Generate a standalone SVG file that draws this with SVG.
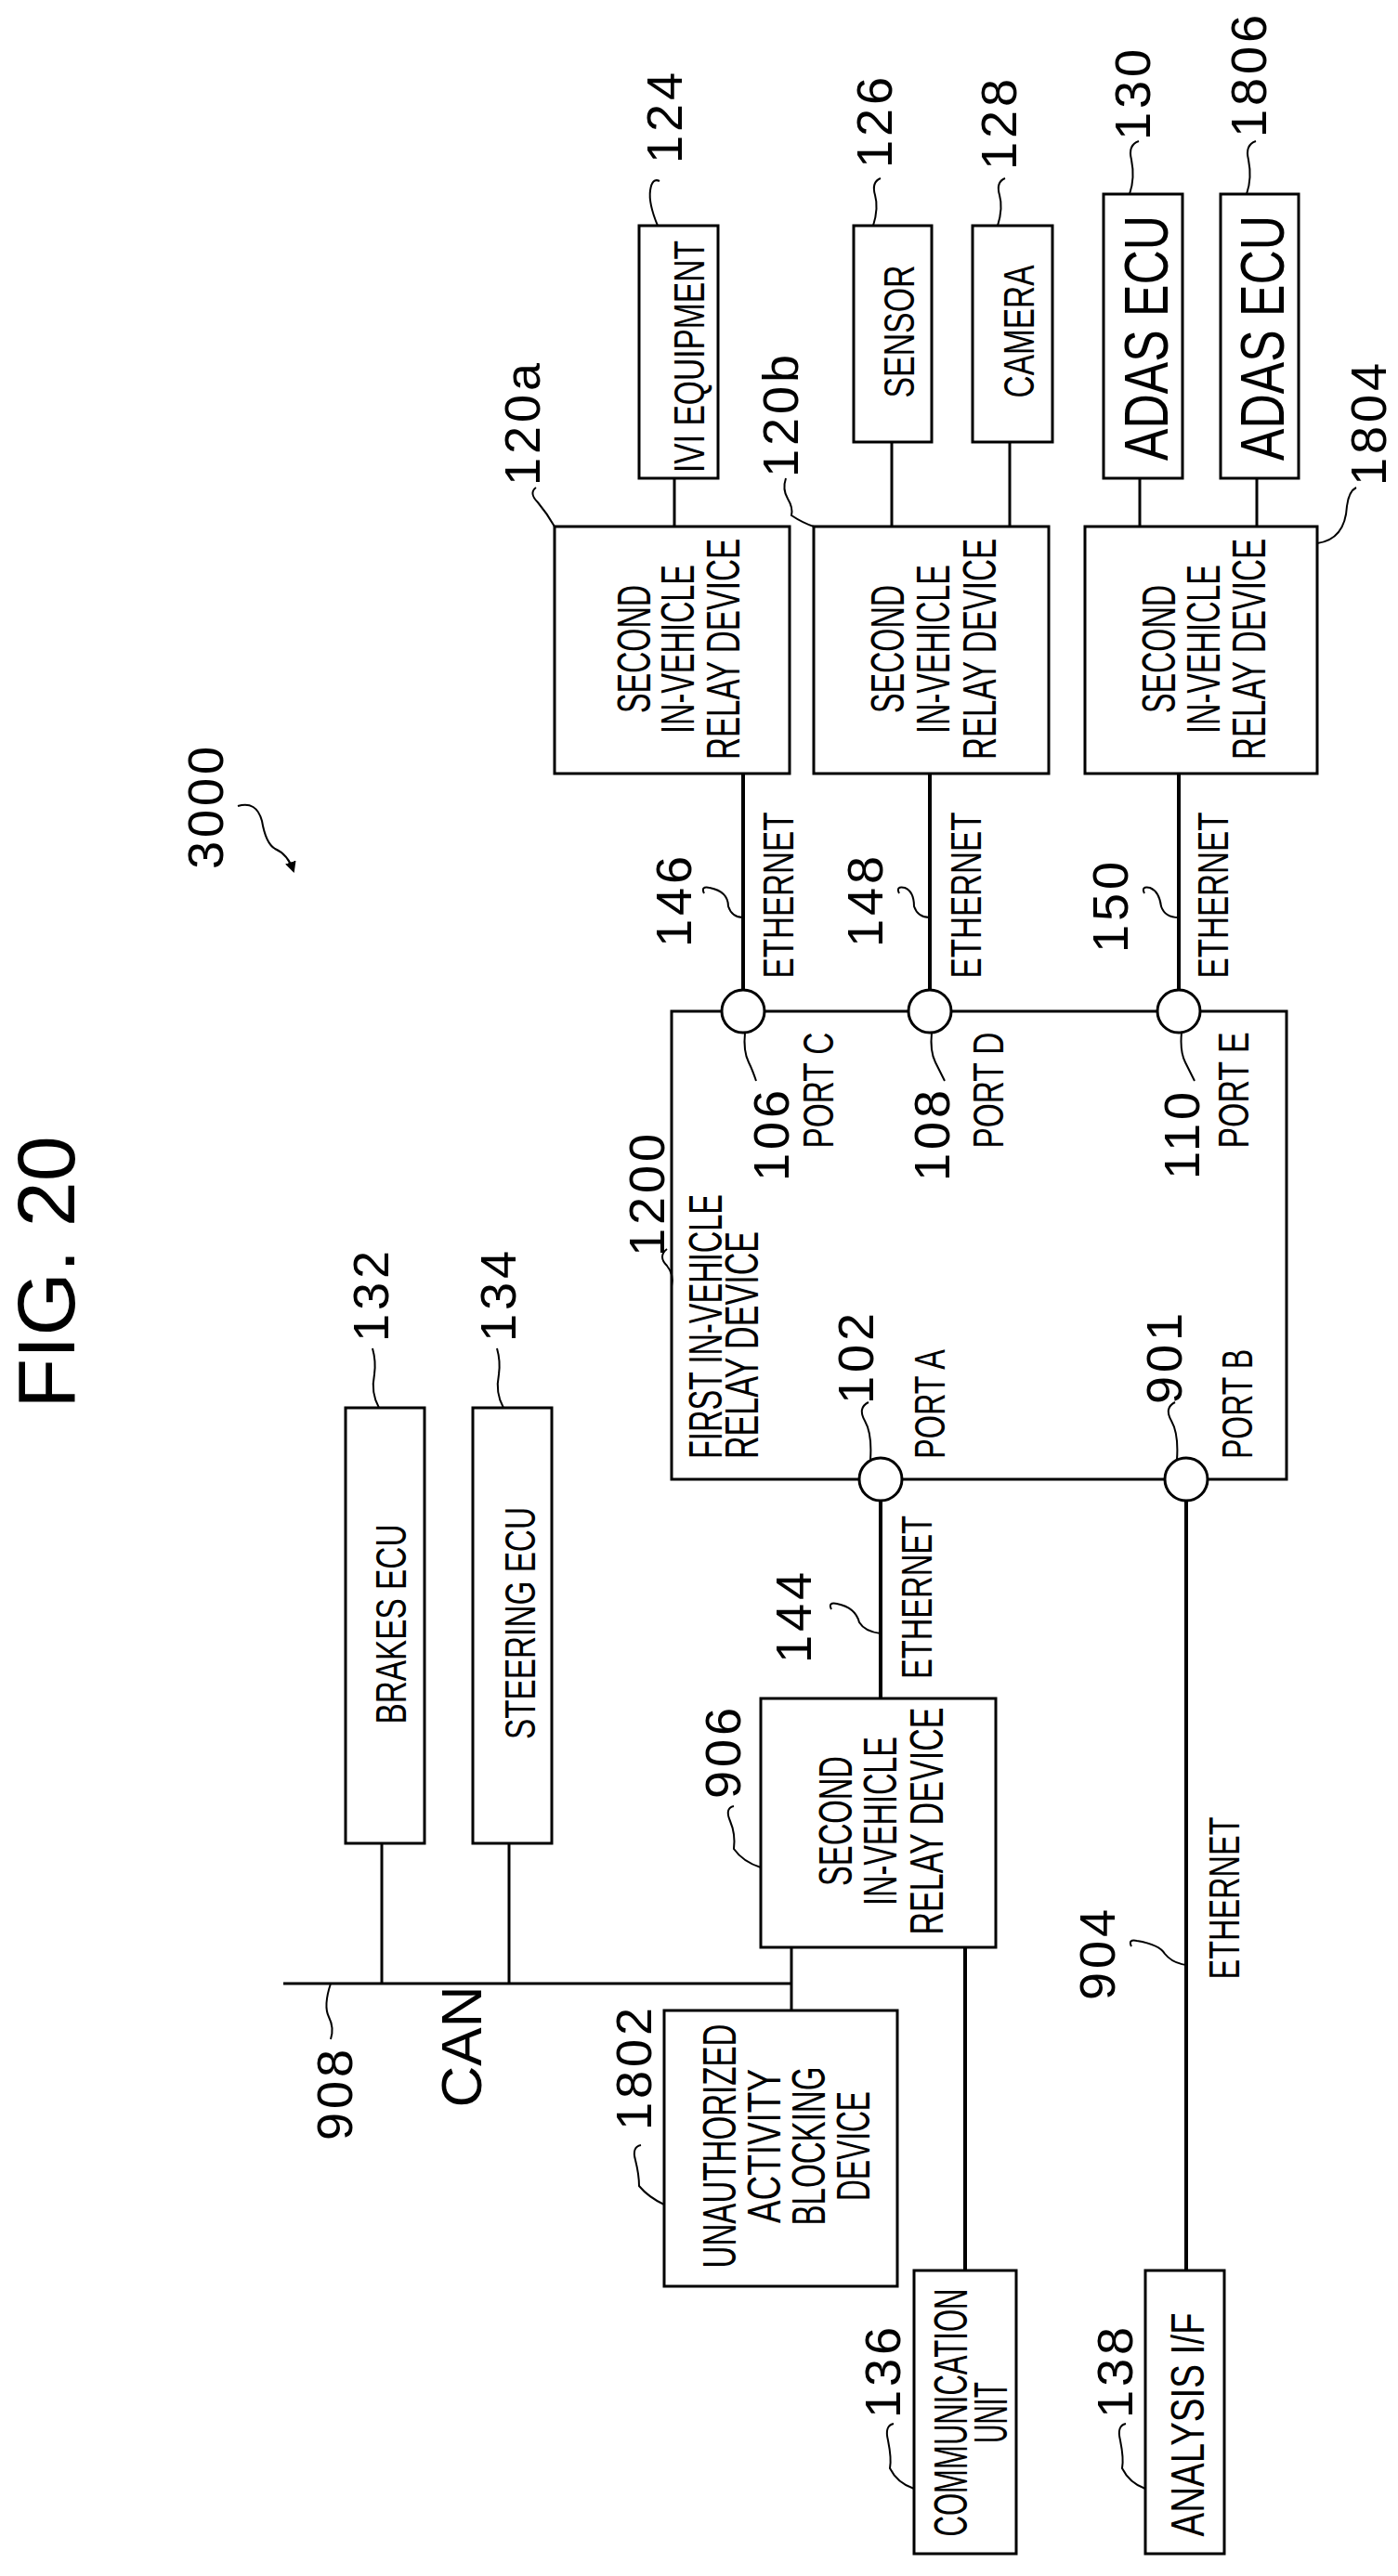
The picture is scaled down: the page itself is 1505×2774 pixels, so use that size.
<svg xmlns="http://www.w3.org/2000/svg" width="1505" height="2774" viewBox="0 0 1505 2774">
<style>
.b{fill:#fff;stroke:#000;stroke-width:3}
.l{fill:none;stroke:#000;stroke-width:3}
.e{fill:none;stroke:#000;stroke-width:4}
.ld{fill:none;stroke:#000;stroke-width:2}
.c{fill:#fff;stroke:#000;stroke-width:3}
text{font-family:"Liberation Sans",Arial,sans-serif;fill:#000}
.t{font-size:50px;text-anchor:middle}
.n{font-size:54px;text-anchor:middle;letter-spacing:4px}
.s{font-size:46px;text-anchor:middle}
</style>
<defs><marker id="ah" markerWidth="12" markerHeight="12" refX="10" refY="6" orient="auto" markerUnits="userSpaceOnUse"><path d="M0,0 L12,6 L0,12 Z" fill="#000"/></marker></defs>
<text style="font-size:88px;text-anchor:middle" transform="translate(80,1370) rotate(-90)">FIG. 20</text>
<g id="connectors">
<line class="l" x1="726" y1="515" x2="726" y2="567"/>
<line class="l" x1="960" y1="476" x2="960" y2="567"/>
<line class="l" x1="1087" y1="476" x2="1087" y2="567"/>
<line class="l" x1="1227" y1="515" x2="1227" y2="567"/>
<line class="l" x1="1353" y1="515" x2="1353" y2="567"/>
<line class="e" x1="800" y1="833" x2="800" y2="1066"/>
<line class="e" x1="1001" y1="833" x2="1001" y2="1066"/>
<line class="e" x1="1269" y1="833" x2="1269" y2="1066"/>
<line class="e" x1="948" y1="1616" x2="948" y2="1829"/>
<line class="e" x1="1277" y1="1616" x2="1277" y2="2445"/>
<line class="l" x1="305" y1="2136" x2="852" y2="2136"/>
<line class="l" x1="411" y1="1985" x2="411" y2="2136"/>
<line class="l" x1="548" y1="1985" x2="548" y2="2136"/>
<line class="l" x1="852" y1="2097" x2="852" y2="2165"/>
<line class="e" x1="1039" y1="2097" x2="1039" y2="2445"/>
</g>
<g id="n1200"><rect class="b" x="723" y="1089" width="662" height="504"/>
<text class="t" style="text-anchor:start" transform="translate(777,1571) rotate(-90)" textLength="285" lengthAdjust="spacingAndGlyphs">FIRST IN-VEHICLE</text>
<text class="t" style="text-anchor:start" transform="translate(816,1571) rotate(-90)" textLength="245" lengthAdjust="spacingAndGlyphs">RELAY DEVICE</text>
<text class="n" transform="translate(715,1285) rotate(-90)">1200</text>
<path class="ld" d="M718,1345 q-10,8 0,18 q8,10 5,22"/>
</g>
<g id="ports">
<circle class="c" cx="800" cy="1089" r="23"/><circle class="c" cx="1001" cy="1089" r="23"/><circle class="c" cx="1269" cy="1089" r="23"/>
<circle class="c" cx="948" cy="1593" r="23"/><circle class="c" cx="1277" cy="1593" r="23"/>
<text class="n" transform="translate(849,1221) rotate(-90)">106</text>
<text class="s" transform="translate(897,1174) rotate(-90)" textLength="125" lengthAdjust="spacingAndGlyphs">PORT C</text>
<text class="n" transform="translate(1022,1221) rotate(-90)">108</text>
<text class="s" transform="translate(1080,1174) rotate(-90)" textLength="125" lengthAdjust="spacingAndGlyphs">PORT D</text>
<text class="n" transform="translate(1291,1221) rotate(-90)">110</text>
<text class="s" transform="translate(1344,1174) rotate(-90)" textLength="125" lengthAdjust="spacingAndGlyphs">PORT E</text>
<path class="ld" d="M814,1164 q-4,-12 -8,-20 q-6,-12 -4,-32"/>
<path class="ld" d="M1017,1164 q-6,-12 -10,-20 q-6,-12 -4,-32"/>
<path class="ld" d="M1286,1164 q-6,-12 -10,-20 q-6,-12 -4,-32"/>
<text class="n" transform="translate(940,1461) rotate(-90)">102</text>
<text class="s" style="text-anchor:start" transform="translate(1017,1571) rotate(-90)" textLength="118" lengthAdjust="spacingAndGlyphs">PORT A</text>
<text class="n" transform="translate(1272,1461) rotate(-90)">901</text>
<text class="s" style="text-anchor:start" transform="translate(1348,1571) rotate(-90)" textLength="118" lengthAdjust="spacingAndGlyphs">PORT B</text>
<path class="ld" d="M935,1510 q-12,6 -4,20 q8,14 6,42"/>
<path class="ld" d="M1265,1510 q-12,6 -4,20 q8,14 6,42"/>
</g>
<g id="n120a"><rect class="b" x="597" y="567" width="253" height="266"/>
<text class="t" transform="translate(700,699) rotate(-90)" textLength="138" lengthAdjust="spacingAndGlyphs">SECOND</text>
<text class="t" transform="translate(747,699) rotate(-90)" textLength="182" lengthAdjust="spacingAndGlyphs">IN-VEHICLE</text>
<text class="t" transform="translate(796,699) rotate(-90)" textLength="238" lengthAdjust="spacingAndGlyphs">RELAY DEVICE</text>
<text class="n" transform="translate(581,455) rotate(-90)">120a</text>
<path class="ld" d="M577,525 q-8,6 2,16 q10,12 18,26"/></g>
<g id="n120b"><rect class="b" x="876" y="567" width="253" height="266"/>
<text class="t" transform="translate(973,699) rotate(-90)" textLength="138" lengthAdjust="spacingAndGlyphs">SECOND</text>
<text class="t" transform="translate(1022,699) rotate(-90)" textLength="182" lengthAdjust="spacingAndGlyphs">IN-VEHICLE</text>
<text class="t" transform="translate(1072,699) rotate(-90)" textLength="238" lengthAdjust="spacingAndGlyphs">RELAY DEVICE</text>
<text class="n" transform="translate(859,446) rotate(-90)">120b</text>
<path class="ld" d="M846,515 q-4,12 2,22 q6,10 4,18 q12,8 24,12"/></g>
<g id="n1804"><rect class="b" x="1168" y="567" width="250" height="266"/>
<text class="t" transform="translate(1265,699) rotate(-90)" textLength="138" lengthAdjust="spacingAndGlyphs">SECOND</text>
<text class="t" transform="translate(1313,699) rotate(-90)" textLength="182" lengthAdjust="spacingAndGlyphs">IN-VEHICLE</text>
<text class="t" transform="translate(1362,699) rotate(-90)" textLength="238" lengthAdjust="spacingAndGlyphs">RELAY DEVICE</text>
<text class="n" transform="translate(1492,455) rotate(-90)">1804</text>
<path class="ld" d="M1460,525 q-8,4 -10,20 q-2,36 -32,40"/></g>
<g id="n124"><rect class="b" x="688" y="243" width="85" height="272"/>
<text class="s" transform="translate(758,384) rotate(-90)" textLength="250" lengthAdjust="spacingAndGlyphs">IVI EQUIPMENT</text>
<text class="n" transform="translate(734,125) rotate(-90)">124</text>
<path class="ld" d="M710,195 q-8,-4 -10,10 q-2,14 8,38"/></g>
<g id="n126"><rect class="b" x="919" y="243" width="84" height="233"/>
<text class="s" transform="translate(984,357) rotate(-90)" textLength="143" lengthAdjust="spacingAndGlyphs">SENSOR</text>
<text class="n" transform="translate(960,130) rotate(-90)">126</text>
<path class="ld" d="M948,192 q-10,4 -6,18 q4,14 -2,33"/></g>
<g id="n128"><rect class="b" x="1047" y="243" width="86" height="233"/>
<text class="s" transform="translate(1113,357) rotate(-90)" textLength="143" lengthAdjust="spacingAndGlyphs">CAMERA</text>
<text class="n" transform="translate(1094,132) rotate(-90)">128</text>
<path class="ld" d="M1082,192 q-10,4 -6,18 q4,14 -2,33"/></g>
<g id="n130"><rect class="b" x="1188" y="209" width="85" height="306"/>
<text style="font-size:66px;text-anchor:middle" transform="translate(1257,364) rotate(-90)" textLength="264" lengthAdjust="spacingAndGlyphs">ADAS ECU</text>
<text class="n" transform="translate(1238,100) rotate(-90)">130</text>
<path class="ld" d="M1226,152 q-12,4 -8,20 q4,20 -2,37"/></g>
<g id="n1806"><rect class="b" x="1314" y="209" width="84" height="306"/>
<text style="font-size:66px;text-anchor:middle" transform="translate(1382,364) rotate(-90)" textLength="264" lengthAdjust="spacingAndGlyphs">ADAS ECU</text>
<text class="n" transform="translate(1363,80) rotate(-90)">1806</text>
<path class="ld" d="M1352,152 q-12,4 -8,20 q4,20 -2,37"/></g>
<g id="eth">
<text class="s" transform="translate(854,964) rotate(-90)" textLength="179" lengthAdjust="spacingAndGlyphs">ETHERNET</text>
<text class="s" transform="translate(1056,964) rotate(-90)" textLength="179" lengthAdjust="spacingAndGlyphs">ETHERNET</text>
<text class="s" transform="translate(1322,964) rotate(-90)" textLength="179" lengthAdjust="spacingAndGlyphs">ETHERNET</text>
<text class="n" transform="translate(744,969) rotate(-90)">146</text>
<text class="n" transform="translate(950,969) rotate(-90)">148</text>
<text class="n" transform="translate(1214,975) rotate(-90)">150</text>
<path class="ld" d="M758,962 q-4,-8 6,-6 q20,4 20,20 q4,12 16,12"/>
<path class="ld" d="M968,962 q-4,-8 6,-6 q10,4 10,20 q4,12 17,12"/>
<path class="ld" d="M1232,962 q-4,-8 6,-6 q10,4 12,20 q4,12 19,12"/>
<text class="s" transform="translate(1003,1720) rotate(-90)" textLength="176" lengthAdjust="spacingAndGlyphs">ETHERNET</text>
<text class="n" transform="translate(873,1740) rotate(-90)">144</text>
<path class="ld" d="M895,1733 q-4,-8 6,-6 q20,4 24,20 q6,10 23,12"/>
<text class="s" transform="translate(1334,2044) rotate(-90)" textLength="175" lengthAdjust="spacingAndGlyphs">ETHERNET</text>
<text class="n" transform="translate(1200,2103) rotate(-90)">904</text>
<path class="ld" d="M1218,2096 q-4,-8 6,-6 q24,4 30,14 q8,10 23,12"/>
</g>
<g id="n132"><rect class="b" x="372" y="1516" width="85" height="469"/>
<text class="s" transform="translate(437,1749) rotate(-90)" textLength="215" lengthAdjust="spacingAndGlyphs">BRAKES ECU</text>
<text class="n" transform="translate(418,1394) rotate(-90)">132</text>
<path class="ld" d="M401,1452 q4,14 2,28 q-4,20 5,36"/></g>
<g id="n134"><rect class="b" x="509" y="1516" width="85" height="469"/>
<text class="s" transform="translate(576,1748) rotate(-90)" textLength="250" lengthAdjust="spacingAndGlyphs">STEERING ECU</text>
<text class="n" transform="translate(555,1394) rotate(-90)">134</text>
<path class="ld" d="M535,1452 q4,14 2,28 q-4,20 5,36"/></g>
<g id="n906"><rect class="b" x="819" y="1829" width="253" height="268"/>
<text class="t" transform="translate(917,1961) rotate(-90)" textLength="140" lengthAdjust="spacingAndGlyphs">SECOND</text>
<text class="t" transform="translate(965,1961) rotate(-90)" textLength="182" lengthAdjust="spacingAndGlyphs">IN-VEHICLE</text>
<text class="t" transform="translate(1015,1961) rotate(-90)" textLength="245" lengthAdjust="spacingAndGlyphs">RELAY DEVICE</text>
<text class="n" transform="translate(797,1886) rotate(-90)">906</text>
<path class="ld" d="M790,1945 q-10,2 -4,16 q6,14 4,30 q10,14 29,20"/></g>
<g id="n908">
<text class="n" transform="translate(379,2254) rotate(-90)">908</text>
<path class="ld" d="M356,2196 q4,-12 -2,-24 q-6,-12 2,-36"/>
<text style="font-size:62px;text-anchor:middle" transform="translate(518,2204) rotate(-90)">CAN</text></g>
<g id="n1802"><rect class="b" x="715" y="2165" width="251" height="297"/>
<text class="t" transform="translate(792,2311) rotate(-90)" textLength="263" lengthAdjust="spacingAndGlyphs">UNAUTHORIZED</text>
<text class="t" transform="translate(840,2311) rotate(-90)" textLength="166" lengthAdjust="spacingAndGlyphs">ACTIVITY</text>
<text class="t" transform="translate(888,2311) rotate(-90)" textLength="171" lengthAdjust="spacingAndGlyphs">BLOCKING</text>
<text class="t" transform="translate(936,2311) rotate(-90)" textLength="118" lengthAdjust="spacingAndGlyphs">DEVICE</text>
<text class="n" transform="translate(701,2226) rotate(-90)">1802</text>
<path class="ld" d="M690,2310 q-10,2 -6,16 q4,16 4,28 q10,12 27,20"/></g>
<g id="n136"><rect class="b" x="984" y="2445" width="110" height="305"/>
<text class="t" transform="translate(1041,2598) rotate(-90)" textLength="267" lengthAdjust="spacingAndGlyphs">COMMUNICATION</text>
<text class="t" transform="translate(1084,2598) rotate(-90)" textLength="66" lengthAdjust="spacingAndGlyphs">UNIT</text>
<text class="n" transform="translate(969,2553) rotate(-90)">136</text>
<path class="ld" d="M962,2610 q-10,2 -6,18 q4,20 2,30 q8,16 26,22"/></g>
<g id="n138"><rect class="b" x="1233" y="2445" width="85" height="305"/>
<text class="t" transform="translate(1296,2611) rotate(-90)" textLength="241" lengthAdjust="spacingAndGlyphs">ANALYSIS I/F</text>
<text class="n" transform="translate(1219,2553) rotate(-90)">138</text>
<path class="ld" d="M1212,2610 q-10,2 -6,18 q4,20 2,30 q8,16 25,22"/></g>
<g id="n3000"><text class="n" transform="translate(240,868) rotate(-90)">3000</text>
<path class="ld" d="M256,868 q20,-6 26,16 q4,24 14,30 q14,6 20,24" marker-end="url(#ah)"/></g>
</svg>
